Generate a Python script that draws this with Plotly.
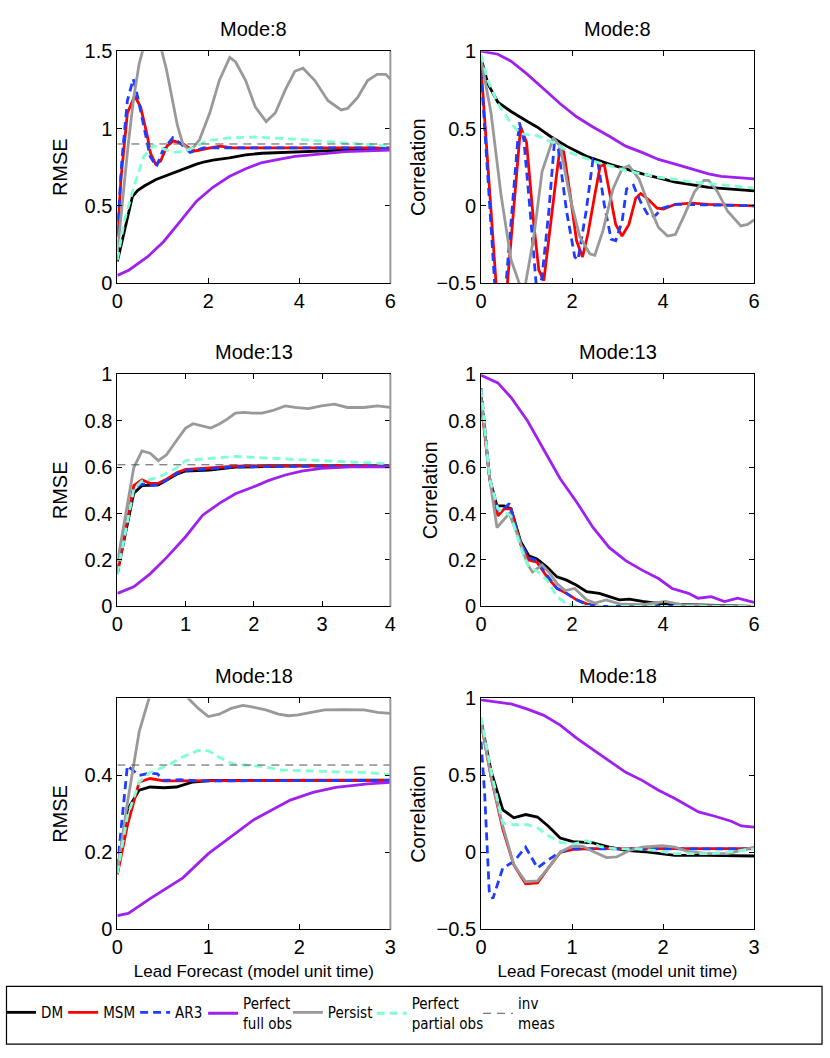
import plotly.graph_objects as go

# ---------------- data ----------------
# Mode 8, RMSE
dm8_t = [0, 0.12, 0.24, 0.33, 0.45, 0.6, 0.85, 1.02, 1.2, 1.38, 1.56, 1.74, 1.92, 2.1, 2.46, 2.82, 3.18, 3.55, 4.27, 5.0, 6.0]
dm8 = [0.14, 0.3, 0.45, 0.56, 0.6, 0.63, 0.67, 0.69, 0.71, 0.73, 0.75, 0.77, 0.785, 0.795, 0.81, 0.83, 0.84, 0.845, 0.852, 0.86, 0.865]
msm8_t = [0, 0.08, 0.22, 0.38, 0.51, 0.66, 0.73, 0.84, 0.95, 1.09, 1.23, 1.45, 1.6, 1.71, 1.96, 2.25, 2.53, 3.0, 4.0, 6.0]
msm8 = [0.3, 0.68, 1.1, 1.21, 1.14, 0.95, 0.84, 0.77, 0.79, 0.886, 0.92, 0.9, 0.87, 0.855, 0.87, 0.886, 0.875, 0.875, 0.875, 0.875]
ar38_t = [0, 0.1, 0.22, 0.35, 0.45, 0.6, 0.72, 0.86, 1.0, 1.22, 1.4, 1.6, 1.75, 1.89, 2.2, 6.0]
ar38 = [0.32, 0.8, 1.18, 1.32, 1.2, 0.98, 0.82, 0.755, 0.86, 0.94, 0.9, 0.845, 0.86, 0.875, 0.875, 0.875]
full8_t = [0, 0.25, 0.66, 1.02, 1.38, 1.74, 2.1, 2.46, 2.82, 3.18, 3.55, 3.9, 4.27, 5.0, 6.0]
full8 = [0.05, 0.084, 0.17, 0.27, 0.40, 0.53, 0.62, 0.69, 0.74, 0.78, 0.80, 0.82, 0.83, 0.85, 0.86]
persist8_t = [0, 0.12, 0.24, 0.36, 0.48, 0.6, 0.72, 0.84, 0.96, 1.08, 1.2, 1.32, 1.44, 1.56, 1.68, 1.81, 2.03, 2.24, 2.47, 2.6, 2.82, 3.03, 3.27, 3.47, 3.69, 3.9, 4.08, 4.34, 4.63, 4.92, 5.06, 5.28, 5.5, 5.71, 5.9, 6.0]
persist8 = [0.2, 0.55, 0.9, 1.2, 1.42, 1.55, 1.65, 1.62, 1.52, 1.38, 1.2, 1.02, 0.9, 0.865, 0.88, 0.93, 1.10, 1.31, 1.46, 1.43, 1.31, 1.14, 1.045, 1.1, 1.25, 1.37, 1.39, 1.31, 1.18, 1.12, 1.13, 1.2, 1.31, 1.35, 1.35, 1.32]
partial8_t = [0, 0.15, 0.37, 0.58, 0.8, 1.02, 1.23, 1.45, 1.67, 1.96, 2.46, 3.03, 3.97, 4.98, 6.0]
partial8 = [0.15, 0.40, 0.63, 0.82, 0.89, 0.865, 0.845, 0.85, 0.875, 0.92, 0.94, 0.945, 0.93, 0.907, 0.886]
inv8 = 0.9

# Mode 8, correlation
dm8c_t = [0, 0.15, 0.37, 0.66, 1.02, 1.23, 1.52, 1.88, 2.32, 2.82, 3.55, 4.27, 5.0, 6.0]
dm8c = [0.955, 0.79, 0.67, 0.61, 0.545, 0.51, 0.45, 0.386, 0.32, 0.27, 0.207, 0.154, 0.12, 0.097]
msm8c_t = [0, 0.33, 0.45, 0.58, 0.87, 1.0, 1.16, 1.27, 1.38, 1.52, 1.63, 1.74, 1.81, 1.96, 2.1, 2.23, 2.35, 2.5, 2.62, 2.71, 2.82, 2.96, 3.1, 3.25, 3.4, 3.51, 3.69, 3.87, 4.01, 4.27, 4.63, 5.0, 6.0]
msm8c = [0.9, -0.5, -0.72, -0.5, 0.51, 0.41, -0.12, -0.415, -0.483, -0.16, 0.13, 0.386, 0.365, 0.07, -0.226, -0.33, -0.18, 0.07, 0.26, 0.264, 0.09, -0.12, -0.195, -0.12, 0.05, 0.08, 0.038, -0.015, -0.02, 0.01, 0.017, 0.01, 0.0]
ar38c_t = [0, 0.3, 0.42, 0.55, 0.84, 0.94, 1.08, 1.21, 1.27, 1.34, 1.49, 1.61, 1.7, 1.88, 2.06, 2.13, 2.31, 2.46, 2.57, 2.71, 2.86, 2.96, 3.1, 3.2, 3.35, 3.5, 3.69, 3.84, 3.98, 4.27, 6.0]
ar38c = [0.87, -0.5, -0.72, -0.5, 0.54, 0.43, -0.035, -0.5, -0.55, -0.46, -0.035, 0.4, 0.365, -0.035, -0.33, -0.35, -0.035, 0.30, 0.28, 0.006, -0.215, -0.225, -0.1, 0.11, 0.133, 0.03, -0.07, -0.06, -0.015, 0.01, 0.0]
full8c_t = [0, 0.37, 0.66, 1.02, 1.38, 1.74, 2.1, 2.46, 2.82, 3.18, 3.55, 3.9, 4.27, 4.63, 5.0, 5.28, 6.0]
full8c = [1.0, 0.98, 0.935, 0.85, 0.755, 0.66, 0.576, 0.51, 0.45, 0.386, 0.344, 0.30, 0.27, 0.24, 0.207, 0.19, 0.175]
persist8c_t = [0, 0.22, 0.44, 0.66, 0.84, 0.91, 0.98, 1.16, 1.34, 1.59, 1.74, 1.96, 2.17, 2.39, 2.5, 2.68, 2.9, 3.1, 3.25, 3.47, 3.69, 3.9, 4.1, 4.27, 4.47, 4.69, 4.9, 5.0, 5.2, 5.42, 5.71, 5.86, 6.0]
persist8c = [0.95, 0.6, 0.07, -0.35, -0.5, -0.56, -0.5, -0.2, 0.22, 0.44, 0.386, 0.05, -0.2, -0.31, -0.32, -0.16, 0.11, 0.24, 0.26, 0.175, 0.006, -0.14, -0.195, -0.185, -0.06, 0.09, 0.165, 0.165, 0.09, -0.035, -0.13, -0.12, -0.09]
partial8c_t = [0, 0.15, 0.37, 0.66, 0.87, 1.23, 1.6, 1.96, 2.46, 3.18, 3.9, 4.63, 6.0]
partial8c = [0.977, 0.81, 0.66, 0.534, 0.466, 0.454, 0.407, 0.344, 0.29, 0.228, 0.186, 0.154, 0.116]

# Mode 13, RMSE
dm13_t = [0, 0.24, 0.36, 0.6, 0.87, 1.0, 1.35, 1.73, 2.46, 4.0]
dm13 = [0.147, 0.487, 0.52, 0.524, 0.569, 0.583, 0.587, 0.6, 0.604, 0.607]
msm13_t = [0, 0.24, 0.36, 0.48, 0.6, 0.72, 0.87, 1.0, 1.25, 1.73, 2.2, 4.0]
msm13 = [0.14, 0.52, 0.545, 0.53, 0.53, 0.548, 0.576, 0.59, 0.594, 0.604, 0.607, 0.607]
ar313_t = [0, 0.24, 0.36, 0.48, 0.6, 0.72, 0.87, 1.0, 1.73, 4.0]
ar313 = [0.14, 0.506, 0.527, 0.52, 0.524, 0.543, 0.572, 0.586, 0.601, 0.607]
full13_t = [0, 0.24, 0.48, 0.72, 1.0, 1.25, 1.5, 1.73, 1.98, 2.22, 2.46, 2.7, 2.99, 3.42, 4.0]
full13 = [0.056, 0.084, 0.14, 0.21, 0.3, 0.393, 0.445, 0.485, 0.513, 0.543, 0.566, 0.583, 0.595, 0.601, 0.601]
persist13_t = [0, 0.24, 0.36, 0.48, 0.6, 0.72, 0.87, 1.0, 1.11, 1.25, 1.37, 1.5, 1.61, 1.73, 1.86, 1.98, 2.12, 2.27, 2.46, 2.6, 2.8, 2.99, 3.18, 3.37, 3.61, 3.81, 4.0]
persist13 = [0.19, 0.597, 0.67, 0.66, 0.628, 0.653, 0.716, 0.768, 0.787, 0.777, 0.768, 0.787, 0.807, 0.833, 0.836, 0.833, 0.833, 0.843, 0.864, 0.857, 0.852, 0.864, 0.871, 0.857, 0.857, 0.864, 0.857]
partial13_t = [0, 0.24, 0.36, 0.6, 0.87, 1.0, 1.25, 1.73, 2.2, 2.7, 3.18, 4.0]
partial13 = [0.14, 0.506, 0.54, 0.555, 0.597, 0.628, 0.635, 0.646, 0.639, 0.632, 0.625, 0.614]
inv13 = 0.61

# Mode 13, correlation
dm13c_t = [0, 0.19, 0.35, 0.51, 0.66, 0.87, 1.05, 1.23, 1.45, 1.67, 1.88, 2.1, 2.32, 2.6, 2.82, 3.04, 3.26, 3.55, 3.98, 4.56, 6.0]
dm13c = [0.914, 0.55, 0.433, 0.433, 0.42, 0.28, 0.218, 0.204, 0.169, 0.127, 0.113, 0.091, 0.063, 0.056, 0.042, 0.028, 0.031, 0.021, 0.011, 0.007, 0.0]
msm13c_t = [0, 0.19, 0.37, 0.51, 0.66, 0.87, 1.05, 1.23, 1.45, 1.67, 1.88, 2.1, 2.32, 2.6, 6.0]
msm13c = [0.886, 0.55, 0.39, 0.42, 0.42, 0.267, 0.2, 0.19, 0.127, 0.077, 0.056, 0.028, 0.011, 0.0, 0.0]
ar313c_t = [0, 0.19, 0.37, 0.51, 0.62, 0.87, 1.05, 1.23, 1.45, 1.67, 1.88, 2.1, 2.32, 2.6, 6.0]
ar313c = [0.94, 0.55, 0.415, 0.42, 0.443, 0.274, 0.21, 0.197, 0.134, 0.077, 0.056, 0.028, 0.007, 0.0, 0.0]
full13c_t = [0, 0.37, 0.66, 1.02, 1.38, 1.74, 2.1, 2.46, 2.82, 3.18, 3.55, 3.9, 4.2, 4.56, 4.77, 5.06, 5.35, 5.64, 6.0]
full13c = [0.996, 0.963, 0.9, 0.8, 0.675, 0.55, 0.45, 0.34, 0.253, 0.197, 0.155, 0.12, 0.077, 0.056, 0.035, 0.042, 0.021, 0.035, 0.017]
persist13c_t = [0, 0.19, 0.35, 0.62, 0.8, 1.02, 1.13, 1.34, 1.49, 1.67, 1.85, 2.06, 2.32, 2.5, 2.75, 3.04, 3.55, 4.05, 4.41, 5.0, 6.0]
persist13c = [0.9, 0.55, 0.34, 0.4, 0.31, 0.183, 0.148, 0.179, 0.148, 0.098, 0.068, 0.077, 0.028, 0.014, 0.028, 0.011, 0.007, 0.021, 0.007, 0.003, 0.0]
partial13c_t = [0, 0.19, 0.37, 0.66, 0.87, 1.05, 1.23, 1.45, 1.67, 1.88, 2.1, 6.0]
partial13c = [0.935, 0.55, 0.42, 0.39, 0.253, 0.169, 0.152, 0.113, 0.042, 0.011, 0.0, 0.0]

# Mode 18, RMSE
dm18_t = [0, 0.11, 0.24, 0.36, 0.51, 0.65, 0.83, 1.05, 3.0]
dm18 = [0.146, 0.311, 0.362, 0.37, 0.368, 0.37, 0.383, 0.387, 0.388]
msm18_t = [0, 0.11, 0.24, 0.36, 0.51, 3.0]
msm18 = [0.143, 0.27, 0.383, 0.392, 0.386, 0.387]
ar318_t = [0, 0.11, 0.24, 0.36, 0.44, 0.51, 0.69, 0.87, 3.0]
ar318 = [0.163, 0.425, 0.40, 0.406, 0.404, 0.387, 0.389, 0.386, 0.387]
full18_t = [0, 0.12, 0.36, 0.72, 1.0, 1.3, 1.5, 1.9, 2.15, 2.4, 2.75, 3.0]
full18 = [0.036, 0.042, 0.08, 0.134, 0.197, 0.25, 0.285, 0.336, 0.356, 0.369, 0.378, 0.382]
persist18_t = [0, 0.11, 0.24, 0.36, 0.48, 0.6, 0.72, 0.78, 0.89, 1.0, 1.12, 1.25, 1.38, 1.48, 1.63, 1.77, 1.88, 1.99, 2.13, 2.28, 2.49, 2.71, 2.86, 3.0]
persist18 = [0.15, 0.328, 0.514, 0.61, 0.67, 0.68, 0.64, 0.6, 0.574, 0.553, 0.559, 0.574, 0.582, 0.578, 0.57, 0.559, 0.555, 0.557, 0.564, 0.57, 0.571, 0.57, 0.564, 0.561]
partial18_t = [0, 0.11, 0.24, 0.36, 0.545, 0.71, 0.89, 1.0, 1.12, 1.27, 1.41, 1.59, 1.81, 1.99, 2.21, 2.49, 2.78, 3.0]
partial18 = [0.146, 0.294, 0.383, 0.408, 0.425, 0.447, 0.465, 0.464, 0.447, 0.43, 0.427, 0.423, 0.414, 0.413, 0.411, 0.41, 0.407, 0.402]
inv18 = 0.427

# Mode 18, correlation
dm18c_t = [0, 0.11, 0.24, 0.36, 0.49, 0.62, 0.74, 0.87, 1.01, 1.23, 1.41, 1.59, 1.84, 2.13, 2.49, 3.0]
dm18c = [0.858, 0.53, 0.277, 0.225, 0.246, 0.23, 0.17, 0.094, 0.07, 0.062, 0.034, 0.013, 0.002, -0.019, -0.019, -0.023]
msm18c_t = [0, 0.11, 0.24, 0.36, 0.49, 0.62, 0.74, 0.87, 1.01, 1.23, 3.0]
msm18c = [0.848, 0.49, 0.15, -0.08, -0.204, -0.198, -0.1, 0.0, 0.02, 0.025, 0.025]
ar318c_t = [0, 0.04, 0.09, 0.13, 0.24, 0.36, 0.49, 0.62, 0.74, 0.87, 1.01, 3.0]
ar318c = [0.72, 0.38, -0.25, -0.30, -0.1, -0.06, 0.034, -0.1, -0.047, 0.002, 0.023, 0.023]
full18c_t = [0, 0.33, 0.51, 0.69, 0.87, 1.05, 1.23, 1.41, 1.59, 1.77, 1.95, 2.13, 2.31, 2.39, 2.57, 2.75, 2.86, 3.0]
full18c = [0.99, 0.964, 0.93, 0.89, 0.827, 0.742, 0.668, 0.594, 0.52, 0.468, 0.404, 0.35, 0.288, 0.263, 0.235, 0.203, 0.172, 0.165]
persist18c_t = [0, 0.11, 0.24, 0.36, 0.49, 0.62, 0.74, 0.87, 1.01, 1.12, 1.25, 1.38, 1.49, 1.63, 1.77, 1.99, 2.13, 2.28, 2.49, 2.71, 2.86, 3.0]
persist18c = [0.85, 0.49, 0.17, -0.08, -0.19, -0.185, -0.1, 0.002, 0.044, 0.04, 0.002, -0.033, -0.029, 0.013, 0.034, 0.044, 0.034, 0.006, -0.008, -0.008, 0.013, 0.034]
partial18c_t = [0, 0.11, 0.24, 0.36, 0.51, 0.62, 0.74, 0.87, 1.01, 1.16, 1.3, 1.48, 1.7, 1.92, 2.13, 2.49, 2.78, 3.0]
partial18c = [0.88, 0.53, 0.19, 0.18, 0.18, 0.16, 0.108, 0.066, 0.055, 0.076, 0.04, 0.023, 0.023, 0.013, -0.008, -0.008, 0.006, 0.023]

series_names = ["DM", "MSM", "AR3", "Perfect<br>full obs", "Persist", "Perfect<br>partial obs", "inv<br>meas"]
panel_titles = ["Mode:8", "Mode:8", "Mode:13", "Mode:13", "Mode:18", "Mode:18"]
y_labels = ["RMSE", "Correlation", "RMSE", "Correlation", "RMSE", "Correlation"]
x_label = "Lead Forecast (model unit time)"

# ---------------- styling ----------------
W, H = 830, 1058
FONT = "Liberation Sans, Arial, Helvetica, sans-serif"
NARROW = "Liberation Sans Narrow, Arial Narrow, DejaVu Sans Condensed, Liberation Sans, sans-serif"
LW = 2.8
styles = [
    dict(color="#000000", width=LW),
    dict(color="#ff0000", width=LW),
    dict(color="#1f3cff", width=LW, dash="8px,5px"),
    dict(color="#a020f0", width=LW),
    dict(color="#999999", width=LW),
    dict(color="#7fffd4", width=LW, dash="8px,5px"),
    dict(color="#555555", width=1, dash="8px,6px"),
]
# legend entry placement (pixel x of each entry, number of text lines)
legend_x_px = [5, 68, 141, 210, 296, 381, 489]
legend_lines = [1, 1, 1, 2, 1, 2, 2]
ytitle_standoff = [11, 5]

# pixel boxes of plot areas
cols_px = [(113, 390), (482, 759)]
rows_px = [(41, 278), (371, 608), (702, 938)]

panels = [
    dict(series=[(dm8_t, dm8), (msm8_t, msm8), (ar38_t, ar38), (full8_t, full8), (persist8_t, persist8), (partial8_t, partial8)],
         inv=inv8, xr=[0, 6], yr=[0, 1.5], xt=[0, 2, 4, 6], yt=[0, 0.5, 1, 1.5]),
    dict(series=[(dm8c_t, dm8c), (msm8c_t, msm8c), (ar38c_t, ar38c), (full8c_t, full8c), (persist8c_t, persist8c), (partial8c_t, partial8c)],
         inv=None, xr=[0, 6], yr=[-0.5, 1], xt=[0, 2, 4, 6], yt=[-0.5, 0, 0.5, 1]),
    dict(series=[(dm13_t, dm13), (msm13_t, msm13), (ar313_t, ar313), (full13_t, full13), (persist13_t, persist13), (partial13_t, partial13)],
         inv=inv13, xr=[0, 4], yr=[0, 1], xt=[0, 1, 2, 3, 4], yt=[0, 0.2, 0.4, 0.6, 0.8, 1]),
    dict(series=[(dm13c_t, dm13c), (msm13c_t, msm13c), (ar313c_t, ar313c), (full13c_t, full13c), (persist13c_t, persist13c), (partial13c_t, partial13c)],
         inv=None, xr=[0, 6], yr=[0, 1], xt=[0, 2, 4, 6], yt=[0, 0.2, 0.4, 0.6, 0.8, 1]),
    dict(series=[(dm18_t, dm18), (msm18_t, msm18), (ar318_t, ar318), (full18_t, full18), (persist18_t, persist18), (partial18_t, partial18)],
         inv=inv18, xr=[0, 3], yr=[0, 0.6], xt=[0, 1, 2, 3], yt=[0, 0.2, 0.4]),
    dict(series=[(dm18c_t, dm18c), (msm18c_t, msm18c), (ar318c_t, ar318c), (full18c_t, full18c), (persist18c_t, persist18c), (partial18c_t, partial18c)],
         inv=None, xr=[0, 3], yr=[-0.5, 1], xt=[0, 1, 2, 3], yt=[-0.5, 0, 0.5, 1]),
]

fig = go.Figure()
layout = dict(width=W, height=H, margin=dict(l=0, r=0, t=0, b=0),
              paper_bgcolor="white", plot_bgcolor="white",
              font=dict(family=FONT, size=20, color="black"),
              showlegend=True)
annotations = []
shapes = []


def legend_ref(j):
    return "legend" if j == 0 else "legend%d" % (j + 1)


for i, p in enumerate(panels):
    r, c = divmod(i, 2)
    k = "" if i == 0 else str(i + 1)
    xa, ya = "x" + k, "y" + k
    x0, x1 = cols_px[c]
    y0, y1 = rows_px[r]
    axis_common = dict(showline=True, linecolor="black", linewidth=1, mirror="allticks",
                       ticks="inside", ticklen=5, tickcolor="black", showgrid=False,
                       zeroline=False, tickfont=dict(family=FONT, size=20, color="black"))
    xaxis = dict(axis_common, domain=[x0 / W, x1 / W], range=p["xr"], tickvals=p["xt"],
                 anchor=ya)
    if r == 2:
        xaxis["title"] = dict(text=x_label, font=dict(family=FONT, size=17), standoff=7)
    yaxis = dict(axis_common, domain=[1 - y1 / H, 1 - y0 / H], range=p["yr"], tickvals=p["yt"],
                 anchor=xa, title=dict(text=y_labels[i], font=dict(family=FONT, size=20),
                                       standoff=ytitle_standoff[c]))
    layout["xaxis" + k] = xaxis
    layout["yaxis" + k] = yaxis

    for j, (t, v) in enumerate(p["series"]):
        fig.add_trace(go.Scatter(x=t, y=v, mode="lines", line=styles[j], name=series_names[j],
                                 legendgroup=series_names[j], showlegend=(i == 0),
                                 legend=legend_ref(j),
                                 xaxis=xa, yaxis=ya, hoverinfo="skip", cliponaxis=True))
    if p["inv"] is not None:
        fig.add_trace(go.Scatter(x=p["xr"], y=[p["inv"], p["inv"]], mode="lines", line=styles[6],
                                 name=series_names[6], legendgroup=series_names[6],
                                 showlegend=(i == 0), legend=legend_ref(6),
                                 xaxis=xa, yaxis=ya, hoverinfo="skip"))
        # grey right-hand frame line as in the reference
        shapes.append(dict(type="line", xref=xa + " domain", yref=ya + " domain",
                           x0=1, x1=1, y0=0, y1=1, line=dict(color="#999999", width=2)))

    annotations.append(dict(text=panel_titles[i], xref=xa + " domain", yref=ya + " domain",
                            x=0.5, y=1, xanchor="center", yanchor="bottom", yshift=9,
                            showarrow=False, font=dict(family=FONT, size=20, color="black")))

# legend frame
shapes.append(dict(type="rect", xref="paper", yref="paper", x0=0.5 / W, x1=828 / W,
                   y0=1 - 1055 / H, y1=1 - 996 / H, line=dict(color="black", width=1.2),
                   fillcolor="rgba(0,0,0,0)"))

layout["annotations"] = annotations
layout["shapes"] = shapes
for j in range(7):
    top_px = 1006 if legend_lines[j] == 1 else 997
    layout[legend_ref(j)] = dict(orientation="h", x=(legend_x_px[j] - 10) / W, y=1 - top_px / H,
                                 xanchor="left", yanchor="top",
                                 font=dict(family=NARROW, size=15, color="black"), itemwidth=30,
                                 bgcolor="rgba(0,0,0,0)", borderwidth=0)
fig.update_layout(**layout)
fig.write_html("out.html", config={"displayModeBar": False},
               post_script="document.body.style.margin='0';document.body.style.overflow='hidden';")
